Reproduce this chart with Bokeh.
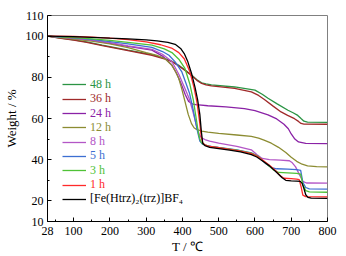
from bokeh.plotting import figure
from bokeh.models import FixedTicker, Legend, LegendItem
from bokeh.embed import file_html
from bokeh.resources import INLINE

# ---- data ----
t_48h = [28, 60, 100, 136, 179, 250, 316, 350, 371, 390, 410, 426, 440, 453, 465, 480, 544, 600, 620, 636, 660, 691, 705, 718, 727, 735, 745, 800]
w_48h = [100, 99.1, 98.2, 97.2, 95.6, 93.2, 91, 89.2, 87.8, 85.8, 83.2, 81, 78.8, 77.3, 76.8, 76.3, 75.3, 73.8, 71.8, 69.8, 67.2, 64, 62.8, 61.5, 60, 58.7, 58.2, 58.1]

t_36h = [28, 60, 100, 136, 179, 250, 316, 350, 371, 390, 410, 426, 440, 453, 465, 480, 544, 590, 610, 626, 650, 672, 690, 709, 720, 727, 735, 800]
w_36h = [100, 99, 98, 97, 95.4, 93, 90.7, 89, 87.6, 85.5, 83, 80.8, 78.5, 77, 76.3, 75.8, 74.6, 72.9, 71.2, 69.2, 66, 63.2, 61.5, 59.9, 58.6, 57.6, 57.3, 57.2]

t_24h = [28, 100, 150, 200, 250, 316, 345, 371, 385, 398, 408, 417, 428, 437, 445, 470, 520, 571, 600, 636, 660, 680, 692, 700, 710, 720, 740, 800]
w_24h = [100, 98.9, 97.9, 96.5, 95, 93.2, 90.3, 86, 81.5, 76.2, 71.5, 68.3, 67, 66.7, 66.6, 66.2, 65.6, 64.8, 63.8, 61.8, 59.8, 57.2, 55, 52.5, 50, 48.6, 47.9, 47.8]

t_12h = [28, 100, 150, 200, 250, 300, 330, 352, 370, 382, 390, 398, 407, 416, 425, 432, 438, 445, 453, 470, 500, 550, 590, 610, 625, 645, 665, 685, 700, 715, 730, 745, 770, 800]
w_12h = [100, 98.6, 97.6, 96.2, 94.4, 92, 90.6, 89, 86, 82.5, 79.4, 74.5, 68.3, 62, 57.5, 55.5, 54.8, 54.3, 53.9, 53.4, 52.8, 52, 51.3, 50.5, 49.5, 48, 46, 43.5, 41.2, 39.2, 37.8, 37, 36.6, 36.5]

t_8h = [28, 100, 150, 200, 250, 316, 345, 371, 390, 407, 418, 428, 438, 447, 453, 462, 475, 500, 550, 590, 605, 620, 640, 670, 695, 703, 712, 722, 732, 742, 800]
w_8h = [100, 98.9, 98, 96.8, 95.3, 93.6, 91.2, 87.7, 81.5, 74.6, 70, 64, 57, 52, 50.6, 49.8, 49, 48, 46.5, 44.8, 42.5, 40.6, 40, 39.8, 39.5, 38.5, 36.5, 33, 29.5, 28.7, 28.6]

t_5h = [28, 100, 150, 200, 250, 316, 345, 363, 380, 398, 410, 420, 430, 440, 448, 455, 465, 480, 500, 550, 590, 610, 630, 645, 660, 690, 715, 726, 732, 740, 750, 800]
w_5h = [100, 99.1, 98.4, 97.3, 96.2, 94.5, 92.5, 90.7, 87.5, 82.8, 77, 72, 64, 55, 49, 47.6, 47, 46.5, 46, 44.8, 43.3, 41.5, 38, 36.2, 35.6, 35.4, 35.2, 34.8, 29, 26.5, 25.8, 25.7]

t_3h = [28, 100, 150, 200, 250, 316, 350, 371, 390, 407, 420, 430, 438, 445, 450, 455, 462, 475, 500, 550, 590, 610, 630, 650, 665, 690, 715, 726, 732, 740, 750, 800]
w_3h = [100, 99.3, 98.7, 97.9, 97, 95.6, 93.8, 92, 88.8, 84.3, 77, 69, 60, 52, 49, 47.8, 47.2, 46.5, 45.8, 44.6, 43.2, 41.5, 38.3, 35.2, 33.8, 33.6, 33.4, 33, 28, 25, 24.4, 24.2]

t_1h = [28, 100, 150, 200, 250, 300, 340, 370, 390, 405, 420, 432, 440, 447, 452, 456, 462, 475, 500, 530, 560, 590, 605, 620, 640, 655, 670, 680, 700, 715, 722, 727, 732, 740, 800]
w_1h = [100, 99.8, 99.5, 99, 98.3, 97.2, 95.8, 94.2, 92, 89, 83, 75, 68, 59, 51, 48.3, 47.2, 46.4, 45.8, 45, 44.2, 43, 41.8, 40, 37.3, 35, 32.2, 31, 30.8, 30.6, 30.3, 27, 22.8, 22.1, 22.0]

t_pure = [28, 60, 100, 150, 200, 250, 300, 330, 360, 380, 395, 405, 415, 425, 435, 442, 448, 452, 456, 462, 475, 500, 530, 560, 590, 605, 620, 640, 660, 675, 685, 700, 715, 725, 730, 735, 740, 746, 755, 800]
w_pure = [100, 99.9, 99.7, 99.4, 99, 98.7, 98.2, 97.7, 97, 96, 94, 91.5, 87.5, 82, 75, 69, 62, 54, 48, 46.8, 46, 45.4, 44.6, 43.8, 42.5, 41.3, 39.5, 37, 33.8, 31.2, 30, 29.7, 29.6, 29.5, 28.5, 26, 23, 21.7, 21.3, 21.2]

labels = ["48 h", "36 h", "24 h", "12 h", "8 h", "5 h", "3 h", "1 h", "[Fe(Htrz)\u2082(trz)]BF\u2084"]
colors = ["#2b9444", "#a02a2a", "#8a22a6", "#8c8c32", "#b356c6", "#3c6fd2", "#4fc236", "#ff2a2a", "#000000"]
series_t = [t_48h, t_36h, t_24h, t_12h, t_8h, t_5h, t_3h, t_1h, t_pure]
series_w = [w_48h, w_36h, w_24h, w_12h, w_8h, w_5h, w_3h, w_1h, w_pure]

x_ticks = [28, 100, 200, 300, 400, 500, 600, 700, 800]
x_minor = [50, 150, 250, 350, 450, 550, 650, 750]
y_ticks = [10, 20, 40, 60, 80, 100, 110]
y_minor = [30, 50, 70, 90]

LEGEND_FONT = "'Liberation Serif', 'Times New Roman', serif"
AXIS_FONT = "Liberation Serif, serif"

p = figure(width=346, height=256, x_range=(28, 800), y_range=(10, 110),
           output_backend="svg", toolbar_location=None,
           min_border_left=45, min_border_right=19, min_border_top=15, min_border_bottom=35)
p.xgrid.visible = False
p.ygrid.visible = False
p.outline_line_color = "#808080"
p.outline_line_width = 1

for ax, ticks, minor in ((p.xaxis[0], x_ticks, x_minor), (p.yaxis[0], y_ticks, y_minor)):
    ax.ticker = FixedTicker(ticks=ticks, minor_ticks=minor)
    ax.major_tick_in = 4
    ax.major_tick_out = 0
    ax.minor_tick_in = 2
    ax.minor_tick_out = 0
    ax.axis_line_color = "black"
    ax.major_tick_line_color = "black"
    ax.minor_tick_line_color = "black"
    ax.major_label_text_color = "black"
    ax.major_label_text_font = AXIS_FONT
    ax.major_label_text_font_size = "12px"
    ax.axis_label_text_font = AXIS_FONT
    ax.axis_label_text_font_size = "13px"
    ax.axis_label_text_font_style = "normal"
    ax.axis_label_text_color = "black"

p.xaxis.major_label_standoff = 5
p.yaxis.major_label_standoff = 4
p.xaxis.axis_label = "T / \u2103"
p.xaxis.axis_label_standoff = 1
p.yaxis.axis_label = "Weight / %"
p.yaxis.axis_label_standoff = 4

renderers = []
for t, w, c in zip(series_t, series_w, colors):
    r = p.line(t, w, line_color=c, line_width=1.3)
    renderers.append(r)

n = len(labels)
for i, (lab, c, r) in enumerate(zip(labels, colors, renderers)):
    k = n - 1 - i
    lg = Legend(items=[LegendItem(label=lab, renderers=[r])],
                location=(15, 14.7 + 14.3 * k),
                label_text_color=c, label_text_font=LEGEND_FONT, label_text_font_size="12px",
                glyph_width=24, glyph_height=14, label_height=14, label_standoff=4,
                padding=0, margin=0, spacing=0,
                background_fill_alpha=0, border_line_alpha=0)
    p.add_layout(lg, "center")

open("out.html", "w").write(file_html(p, INLINE))
